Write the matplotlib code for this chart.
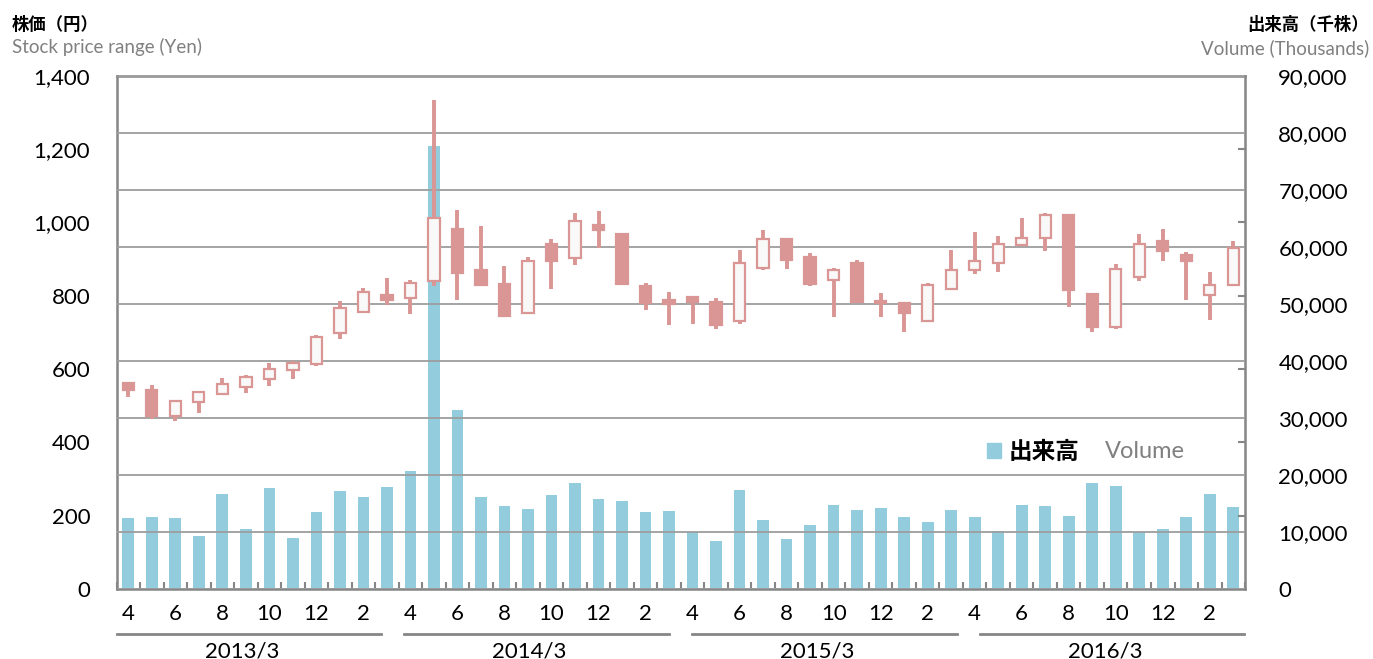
import numpy as np
import matplotlib.pyplot as plt
import matplotlib.transforms as mtrans
from matplotlib.patches import Patch

plt.rcParams['font.family'] = ['Lato', 'Noto Sans CJK JP', 'DejaVu Sans']

# monthly data, Apr 2012 - Mar 2016
months = [4, 5, 6, 7, 8, 9, 10, 11, 12, 1, 2, 3] * 4
years = ['2013/3', '2014/3', '2015/3', '2016/3']

opens = [561, 542, 472, 511, 531, 550, 572, 596, 613, 697, 755, 801,
         793, 840, 982, 869, 833, 752, 941, 902, 993, 968, 827, 788,
         796, 784, 732, 876, 956, 906, 843, 890, 786, 780, 732, 819,
         871, 890, 939, 957, 1021, 805, 716, 852, 948, 910, 802, 829]
highs = [563, 556, 513, 537, 575, 584, 617, 621, 692, 786, 822, 847,
         843, 1335, 1033, 990, 882, 906, 956, 1026, 1030, 972, 835, 811,
         798, 795, 926, 980, 957, 917, 876, 897, 808, 783, 835, 926,
         974, 963, 1012, 1026, 1021, 805, 887, 967, 982, 918, 864, 948]
lows = [525, 464, 458, 479, 530, 535, 553, 572, 608, 681, 754, 775,
        749, 826, 789, 829, 741, 752, 817, 883, 930, 832, 760, 719,
        723, 708, 723, 869, 873, 827, 741, 779, 741, 702, 732, 817,
        860, 864, 937, 921, 770, 700, 709, 840, 896, 789, 733, 827]
closes = [544, 472, 512, 536, 558, 578, 599, 617, 687, 766, 809, 788,
          836, 1012, 862, 829, 744, 896, 894, 1003, 978, 833, 780, 777,
          782, 721, 890, 956, 897, 831, 869, 782, 779, 754, 829, 871,
          894, 941, 957, 1021, 815, 715, 874, 940, 921, 894, 829, 929]
volume = [12440, 12620, 12380, 9360, 16610, 10570, 17700, 9000, 13590, 17210, 16190, 17880,
          20780, 77610, 31410, 16190, 14500, 14070, 16490, 18540, 15760, 15460, 13470, 13650,
          9970, 8340, 17400, 12080, 8760, 11170, 14680, 13890, 14250, 12680, 11780, 13770,
          12560, 10150, 14740, 14500, 12740, 18540, 18060, 9970, 10570, 12680, 16610, 14440]

pink = '#D99694'
blue = '#93CDDD'
grey = '#868686'

o = np.array(opens)
c = np.array(closes)
x = np.arange(len(opens))

fig = plt.figure(figsize=(13.73, 6.59), dpi=100)
ax = fig.add_axes([0.0849, 0.1062, 0.8219, 0.7789])
axp = ax.twinx()

# volume bars (right scale)
ax.bar(x, volume, width=0.5, color=blue, zorder=1)
ax.set_ylim(0, 90000)
ax.set_xlim(-0.5, len(x) - 0.5)
ax.set_yticks(np.arange(0, 90001, 10000))
ax.set_yticklabels(['{:,}'.format(v) for v in range(0, 90001, 10000)])
ax.yaxis.tick_right()
ax.grid(axis='y', color='#9D9D9D', lw=1.3)
ax.set_axisbelow(False)
ax.tick_params(axis='y', length=0, pad=24, labelsize=16)

ax.set_xticks(x[::2])
ax.set_xticklabels([str(m) for m in months[::2]])
ax.set_xticks(np.arange(-0.5, len(x), 1), minor=True)
ax.tick_params(axis='x', which='major', length=0, pad=11, labelsize=16)
ax.tick_params(axis='x', which='minor', direction='in', length=5, color=grey, width=1.5)
for s in ax.spines.values():
    s.set_color(grey)
    s.set_linewidth(1.8)

# price candles (left scale)
axp.yaxis.tick_left()
axp.set_ylim(0, 1400)
axp.set_yticks(np.arange(0, 1401, 200))
axp.set_yticklabels(['{:,}'.format(v) for v in range(0, 1401, 200)])
axp.tick_params(axis='y', length=0, pad=19, labelsize=16)
for s in axp.spines.values():
    s.set_visible(False)

axp.vlines(x, lows, highs, color=pink, lw=2.8, zorder=2)
face = ['#F9F9F9' if cc >= oo else pink for oo, cc in zip(o, c)]
axp.bar(x, np.abs(c - o), bottom=np.minimum(o, c), width=0.48,
        color=face, edgecolor=pink, lw=1.6, zorder=3)

# inner tick marks on the right for price scale
tr = mtrans.blended_transform_factory(axp.transAxes, axp.transData)
for v in range(200, 1400, 200):
    axp.plot([0.9945, 1.0], [v, v], color=grey, lw=1.5, transform=tr, clip_on=False)

# year groups under the x axis
trx = mtrans.blended_transform_factory(ax.transData, ax.transAxes)
for k, yr in enumerate(years):
    start = 12 * k - 0.5 + 0.24 * k
    end = start + 11.25
    ax.plot([start, end], [-0.0877, -0.0877], color=grey, lw=2,
            transform=trx, clip_on=False)
    ax.text((start + end) / 2 - 0.3, -0.121, yr, transform=trx, ha='center',
            va='center', fontsize=16)

# axis titles
fig.text(12 / 1373, 1 - 24 / 659, '株価（円）', fontsize=12.5, fontweight='bold',
         va='center', ha='left')
fig.text(12 / 1373, 1 - 47 / 659, 'Stock price range (Yen)', fontsize=13.5,
         color='#808080', va='center', ha='left')
fig.text(1369 / 1373, 1 - 24 / 659, '出来高（千株）', fontsize=12.5, fontweight='bold',
         va='center', ha='right')
fig.text(1369 / 1373, 1 - 48 / 659, 'Volume (Thousands)', fontsize=13.5,
         color='#808080', va='center', ha='right')

# legend
ax.legend(handles=[Patch(color=blue, label='出来高')], loc='center left',
          bbox_to_anchor=(0.771, 0.268), frameon=False, borderpad=0,
          borderaxespad=0, handlelength=0.6, handleheight=0.6,
          handletextpad=0.35, prop={'size': 17, 'weight': 'bold'})
fig.text(1105 / 1373, 1 - 452 / 659, 'Volume', fontsize=17, color='#808080',
         va='center', ha='left')

fig.savefig('out.png', dpi=100)
